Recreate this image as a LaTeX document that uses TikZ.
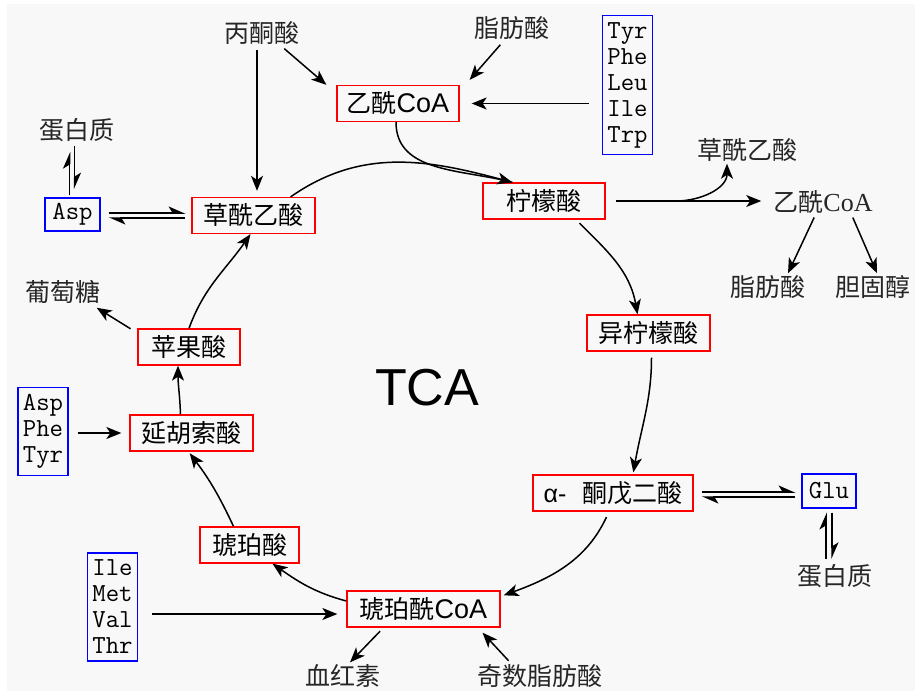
\documentclass[tikz,border=0pt]{standalone}
\usepackage{fontspec}
\setmainfont{Noto Sans CJK SC}
\newfontfamily\lsans{Liberation Sans}
\newfontfamily\lserif{Liberation Serif}
\usepackage{tikz}
\usetikzlibrary{arrows.meta, calc}
\definecolor{bg}{HTML}{F8F8F8}

\begin{document}
\begin{tikzpicture}[
    x=1pt, y=1pt,
    redbox/.style={rectangle, draw=red, line width=1.3pt, minimum height=36pt, inner sep=2pt, font=\fontsize{25}{28}\selectfont},
    bluebox/.style={rectangle, draw=blue, line width=1.3pt, inner xsep=5pt, inner ysep=7pt, align=center, font=\ttfamily\fontsize{26}{26}\selectfont},
    plain/.style={text=black!85, inner sep=2pt, font=\fontsize{25}{28}\selectfont},
    arrow/.style={line width=1.5pt, -{Stealth[length=15pt, width=12pt, inset=4pt]}},
    harp/.style={line width=1.5pt, -{Stealth[harpoon, length=15pt, width=13pt, inset=4pt]}}
]
    \path[use as bounding box, fill=white] (0,0) rectangle (915,-691);
    \fill[bg] (7,-4) rectangle (915,-691);

    \node (acoa) [redbox, minimum width=122pt] at (398,-103.5) {乙酰{\lsans\fontsize{27}{28}\selectfont CoA}};
    \node (oaa)  [redbox, minimum width=123pt] at (253.5,-215.5) {草酰乙酸};
    \node (cit)  [redbox, minimum width=122pt] at (544,-201) {柠檬酸};
    \node (icit) [redbox, minimum width=123pt] at (648.5,-333) {异柠檬酸};
    \node (akg)  [redbox, minimum width=160pt] at (613,-493) {{\lsans α-}\hspace{16pt}酮戊二酸};
    \node (scoa) [redbox, minimum width=153pt] at (423.5,-609) {琥珀酰{\lsans\fontsize{27}{28}\selectfont CoA}};
    \node (suc)  [redbox, minimum width=99pt] at (249.5,-545) {琥珀酸};
    \node (fum)  [redbox, minimum width=123pt] at (191.5,-433) {延胡索酸};
    \node (mal)  [redbox, minimum width=102pt] at (189,-347) {苹果酸};

    \node (aaA) [bluebox] at (627.5,-85) {Tyr\\Phe\\Leu\\Ile\\Trp};
    \node (aaB) [bluebox] at (43,-431.5) {Asp\\Phe\\Tyr};
    \node (aaC) [bluebox] at (112.5,-607) {Ile\\Met\\Val\\Thr};
    \node (asp) [bluebox, inner ysep=3pt, minimum width=55pt, minimum height=33pt] at (72.5,-214.5) {Asp};
    \node (glu) [bluebox, inner ysep=3pt, minimum width=54pt, minimum height=34pt] at (829,-491) {Glu};

    \node (pyr)   [plain] at (262,-33) {丙酮酸};
    \node (fatA)  [plain] at (512,-28) {脂肪酸};
    \node (protA) [plain] at (77,-130) {蛋白质};
    \node (oaaB)  [plain] at (747,-150) {草酰乙酸};
    \node (acoaB) [plain] at (823,-202) {乙酰{\lserif\fontsize{26}{28}\selectfont CoA}};
    \node (fatB)  [plain] at (768,-287) {脂肪酸};
    \node (chol)  [plain] at (873,-287) {胆固醇};
    \node (glc)   [plain] at (63,-292) {葡萄糖};
    \node (protB) [plain] at (835,-576) {蛋白质};
    \node (heme)  [plain] at (343,-676) {血红素};
    \node (oddfa) [plain] at (540,-676) {奇数脂肪酸};
    \node (tca) at (427,-388) {\lsans\fontsize{52}{60}\selectfont TCA};

    \coordinate (br) at (676,-201);

    \draw [arrow, shorten >=6pt, shorten <=3pt] ([xshift=-5pt]pyr.south) -- ([xshift=-5pt]pyr.south |- oaa.north);
    \draw [arrow, shorten <=3pt] ([xshift=20pt]pyr.south) -- ([xshift=-10pt]acoa.north west);
    \draw [arrow, shorten <=4pt] ([xshift=-9pt]fatA.south) -- ([xshift=10pt, yshift=5pt]acoa.north east);
    \draw [arrow, shorten <=13pt, shorten >=12pt] (aaA.west |- acoa.east) -- (acoa.east);

    \draw [line width=1.5pt] ([xshift=-2pt]acoa.south) to[out=-90, in=165] ([xshift=30pt]cit.north west);
    \draw [arrow] ([xshift=-25pt]oaa.north east) to[out=35, in=165] ([xshift=30pt]cit.north west);
    \draw [arrow, shorten <=5pt] ([xshift=32pt]cit.south) to[out=-45, in=100] ([xshift=-11pt]icit.north);
    \draw [arrow, shorten <=10pt, shorten >=10pt] (cit.east) -- (cit.east -| acoaB.west);
    \draw [arrow] (br) to[out=0, in=-90] ([xshift=-20pt]oaaB.south);
    \draw [arrow, shorten <=2pt] ([xshift=-8pt]acoaB.south) -- ([xshift=20pt]fatB.north);
    \draw [arrow, shorten <=2pt] ([xshift=29pt]acoaB.south) -- ([xshift=4pt]chol.north);

    \draw [arrow, shorten <=6pt, shorten >=2pt] ([xshift=3pt]icit.south) to[out=-90, in=80] ([xshift=20pt]akg.north);
    \draw [harp, shorten <=8pt, shorten >=6pt] ([yshift=1pt]akg.east) -- ([yshift=1pt]akg.east -| glu.west);
    \draw [harp, shorten <=6pt, shorten >=8pt] ([yshift=-4pt]akg.east -| glu.west) -- ([yshift=-4pt]akg.east);
    \draw [harp, shorten <=3pt, shorten >=4pt] ([xshift=-3pt]glu.south |- protB.north) -- ([xshift=-3pt]glu.south);
    \draw [harp, shorten <=4pt, shorten >=3pt] ([xshift=3pt]glu.south) -- ([xshift=3pt]glu.south |- protB.north);

    \draw [arrow, shorten <=6pt] ([xshift=-4pt]akg.south) to[out=-115, in=20] ([xshift=3pt, yshift=-5pt]scoa.north east);
    \draw [arrow, shorten <=2pt] ([xshift=-30pt]oddfa.north) -- ([xshift=59pt, yshift=-5pt]scoa.south);
    \draw [arrow, shorten <=5pt] ([xshift=-40pt]scoa.south) -- ([xshift=7pt]heme.north);
    \draw [arrow, shorten <=14pt, shorten >=9pt] ([yshift=-7pt]aaC.east) -- ([yshift=-7pt]aaC.east -| scoa.west);

    \draw [arrow] ([yshift=8pt]scoa.west) to[out=165, in=-35] ([xshift=23pt]suc.south);
    \draw [arrow, shorten >=2pt] ([xshift=-16pt]suc.north) to[bend right=6] ([xshift=-3pt]fum.south);
    \draw [arrow] ([xshift=-11pt]fum.north) to[out=92, in=-90] ([xshift=-11pt]mal.south);
    \draw [arrow, shorten <=9pt, shorten >=8pt] (aaB.east |- fum.west) -- (fum.west);
    \draw [arrow, shorten <=8pt] ([yshift=14pt]mal.west) -- ([xshift=-6pt, yshift=-2pt]glc.south east);
    \draw [arrow] (mal.north) to[out=70, in=-125] ([xshift=-3pt]oaa.south);

    \draw [harp, shorten <=8pt, shorten >=6pt] ([yshift=1.5pt]asp.east) -- ([yshift=1.5pt]asp.east -| oaa.west);
    \draw [harp, shorten <=6pt, shorten >=8pt] ([yshift=-3.5pt]asp.east -| oaa.west) -- ([yshift=-3.5pt]asp.east);
    \draw [harp, shorten <=2pt, shorten >=8pt] ([xshift=-3pt]asp.north) -- ([xshift=-3pt]asp.north |- protA.south);
    \draw [harp, shorten <=2pt, shorten >=8pt] ([xshift=2pt]asp.north |- protA.south) -- ([xshift=2pt]asp.north);
\end{tikzpicture}
\end{document}
